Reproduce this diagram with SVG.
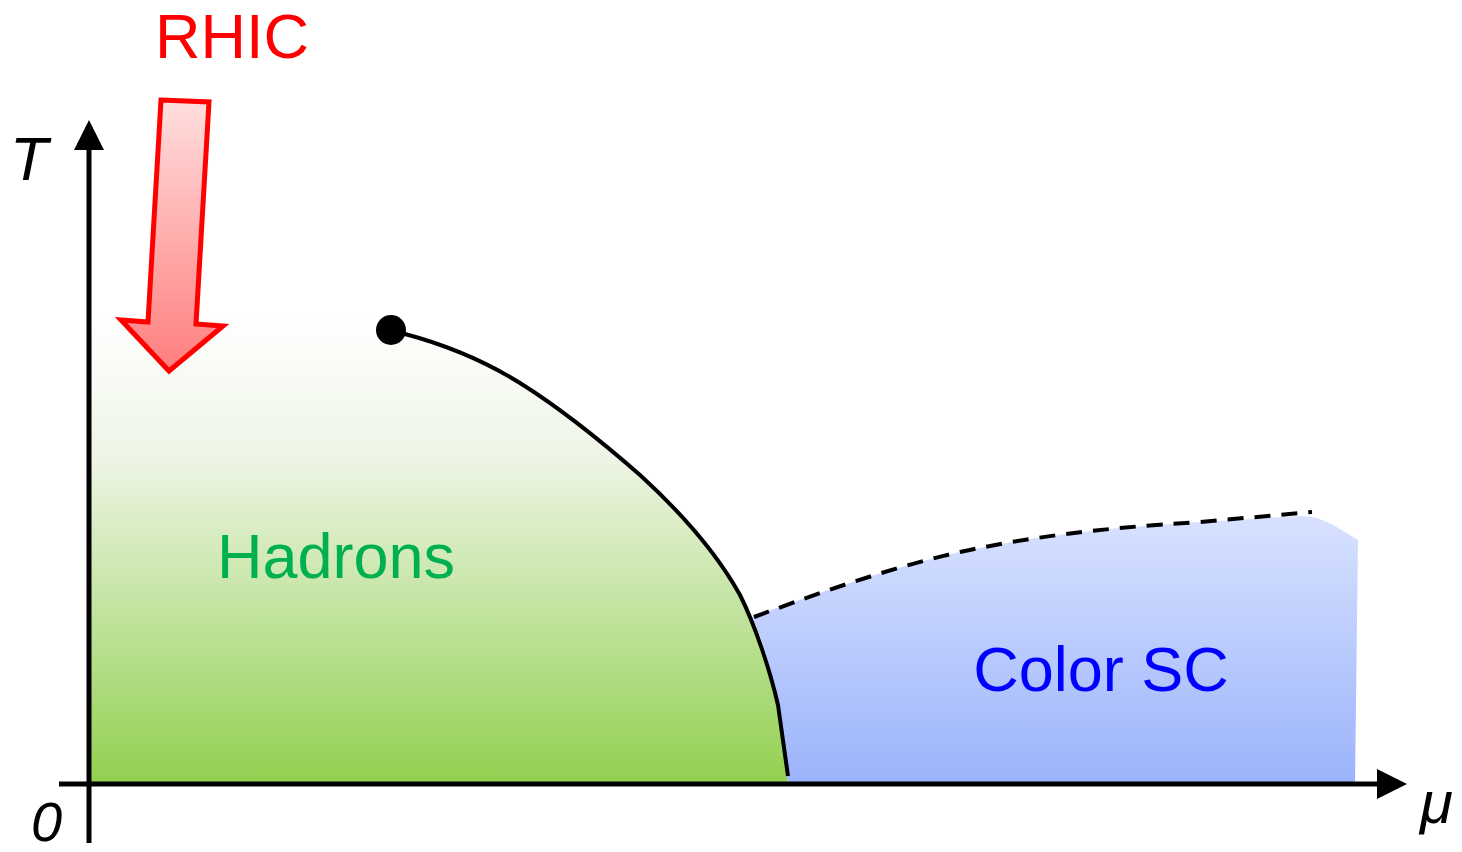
<svg xmlns="http://www.w3.org/2000/svg" width="1462" height="852" viewBox="0 0 1462 852">
<defs>
<linearGradient id="gGreen" x1="0" y1="315" x2="0" y2="783" gradientUnits="userSpaceOnUse">
<stop offset="0" stop-color="#ffffff"/>
<stop offset="0.3" stop-color="#eef5e6"/>
<stop offset="1" stop-color="#92d050"/>
</linearGradient>
<linearGradient id="gBlue" x1="0" y1="515" x2="0" y2="783" gradientUnits="userSpaceOnUse">
<stop offset="0" stop-color="#d8e2ff"/>
<stop offset="1" stop-color="#9bb3fb"/>
</linearGradient>
<linearGradient id="gRed" x1="0" y1="100" x2="0" y2="370" gradientUnits="userSpaceOnUse">
<stop offset="0" stop-color="#ffdede"/>
<stop offset="1" stop-color="#ff7e7e"/>
</linearGradient>
<marker id="ah" markerWidth="6" markerHeight="6" refX="0" refY="3" orient="auto" markerUnits="strokeWidth">
<path d="M0,0 L6,3 L0,6 Z" fill="#000"/>
</marker>
<style>
.lbl{font-family:"Liberation Sans",Arial,sans-serif;}
.ax{font-family:"Liberation Sans",Arial,sans-serif;font-style:italic;fill:#000;}
.axis{stroke:#000;stroke-width:5;fill:none;}
</style>
</defs>

<g id="regions">
<path id="hadron-region" d="M90,783 L90,315 L391,315 L391,330 L405,334 C435,342 475,355 520,383 C560,408 600,440 640,475 C675,507 715,550 740,595 C755,625 770,670 778,705 L788,783 Z" fill="url(#gGreen)"/>
<path id="sc-region" d="M752,617 C800,600 880,570 960,552 C1030,537 1100,528 1200,522 L1300,516 C1325,516 1340,530 1358,540 L1355,783 L788,783 L778,705 C772,675 765,645 752,617 Z" fill="url(#gBlue)"/>
</g>

<g id="connectors">
<line class="axis" x1="89" y1="843" x2="89" y2="150" marker-end="url(#ah)"/>
<line class="axis" x1="59" y1="784" x2="1377" y2="784" marker-end="url(#ah)"/>
<path id="phase-line" d="M391,330 L405,334 C435,342 475,355 520,383 C560,408 600,440 640,475 C675,507 715,550 740,595 C755,625 770,670 778,705 L788,776" fill="none" stroke="#000" stroke-width="4"/>
<path id="sc-line" d="M754,617 C800,600 880,570 960,552 C1030,537 1100,528 1200,522 L1312,512" fill="none" stroke="#000" stroke-width="4" stroke-dasharray="16,11"/>
</g>

<g id="critical-point">
<circle cx="391" cy="330" r="15" fill="#000"/>
</g>

<g id="rhic-arrow">
<polygon points="161,100 209,102 196,324 223,326 169,371 121,320 148,322" fill="url(#gRed)" stroke="#ff0000" stroke-width="5" stroke-linejoin="miter"/>
</g>

<g id="labels">
<text class="lbl" x="232" y="58" font-size="63" fill="#ff0000" text-anchor="middle">RHIC</text>
<text class="lbl" x="336" y="578" font-size="63" fill="#00b050" text-anchor="middle">Hadrons</text>
<text class="lbl" x="1101" y="691" font-size="63" fill="#0000ff" text-anchor="middle">Color SC</text>
<text class="ax" x="10" y="180" font-size="62">T</text>
<text class="ax" x="31" y="841" font-size="56">0</text>
<text class="ax" x="1420" y="823" font-size="60">μ</text>
</g>
</svg>
